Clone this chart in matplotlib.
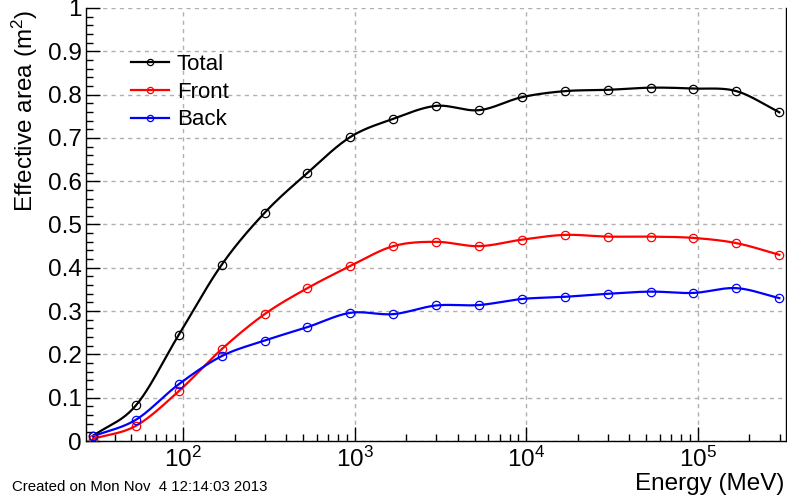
import numpy as np
import matplotlib
matplotlib.use("Agg")
import matplotlib.pyplot as plt
from matplotlib.ticker import FixedLocator, MultipleLocator, NullFormatter

plt.rcParams["font.family"] = ["Liberation Sans", "DejaVu Sans"]
plt.rcParams["mathtext.fontset"] = "custom"
plt.rcParams["mathtext.rm"] = "Liberation Sans"
plt.rcParams["mathtext.it"] = "Liberation Sans"
plt.rcParams["mathtext.default"] = "regular"

# energy bin centres (MeV), quarter-decade steps
energy = [29.9, 53.1, 94.4, 168, 299, 531, 944, 1680, 2990, 5310,
          9440, 16800, 29900, 53100, 94400, 168000, 299000]

total = [0.012, 0.082, 0.245, 0.407, 0.527, 0.619, 0.702, 0.744, 0.774,
         0.764, 0.794, 0.808, 0.811, 0.816, 0.814, 0.808, 0.759]
front = [0.005, 0.035, 0.115, 0.212, 0.293, 0.353, 0.404, 0.450, 0.460,
         0.450, 0.465, 0.476, 0.472, 0.472, 0.469, 0.457, 0.430]
back = [0.011, 0.049, 0.131, 0.196, 0.232, 0.263, 0.296, 0.293, 0.313,
        0.314, 0.328, 0.333, 0.340, 0.345, 0.342, 0.353, 0.330]


def smooth(x, y, n=24):
    # Catmull-Rom curve through the points, in log-x space (like ROOT's "C" option)
    pts = np.column_stack([np.log10(x), y])
    P = np.vstack([2 * pts[0] - pts[1], pts, 2 * pts[-1] - pts[-2]])
    t = np.linspace(0, 1, n, endpoint=False)[:, None]
    segs = []
    for i in range(1, len(P) - 2):
        p0, p1, p2, p3 = P[i - 1:i + 3]
        segs.append(0.5 * (2 * p1 + (p2 - p0) * t
                           + (2 * p0 - 5 * p1 + 4 * p2 - p3) * t ** 2
                           + (3 * p1 - p0 - 3 * p2 + p3) * t ** 3))
    segs.append(pts[-1:])
    c = np.vstack(segs)
    return 10 ** c[:, 0], c[:, 1]


fig = plt.figure(figsize=(7.87, 4.98), dpi=100)
ax = fig.add_axes([86 / 787, 1 - 441 / 498, 700 / 787, 433 / 498])

series = [("Total", total, "black"), ("Front", front, "#ff0000"), ("Back", back, "#0000ff")]
handles = []
for name, vals, col in series:
    sx, sy = smooth(energy, vals)
    ax.plot(sx, sy, color=col, lw=1.6, zorder=3)
    ax.plot(energy, vals, "o", ms=6, mfc="none", mec=col, mew=0.9, zorder=4)
    h, = ax.plot([], [], color=col, lw=1.6, marker="o", ms=4.5, mfc="none", mec=col, mew=0.9)
    h.set_label(name)
    handles.append(h)

ax.set_xscale("log")
ax.set_xlim(27.2, 3.27e5)
ax.set_ylim(0, 1)

ax.xaxis.set_major_locator(FixedLocator([1e2, 1e3, 1e4, 1e5]))
ax.xaxis.set_major_formatter(plt.FuncFormatter(lambda v, p: "$10^{%d}$" % round(np.log10(v))))
ax.xaxis.set_minor_locator(FixedLocator([m * 10 ** d for d in range(1, 6) for m in range(2, 10)]))
ax.xaxis.set_minor_formatter(NullFormatter())
ax.yaxis.set_major_locator(MultipleLocator(0.1))
ax.yaxis.set_major_formatter(plt.FuncFormatter(lambda v, p: "%g" % round(v, 1)))
ax.yaxis.set_minor_locator(MultipleLocator(0.02))

ax.tick_params(which="both", direction="in", top=False, right=False, labelsize=17.5)
ax.tick_params(which="major", length=10, width=1)
ax.tick_params(which="minor", length=5, width=1)
ax.tick_params(axis="y", pad=3)
ax.tick_params(axis="x", pad=4)

ax.grid(True, which="major", color="#b0b0b0", ls=(0, (3, 3)), lw=1)
ax.spines["top"].set_visible(False)
for s in ("left", "bottom", "right"):
    ax.spines[s].set_linewidth(1)

ax.set_ylabel("Effective area (m$^{2}$)", fontsize=17.5, loc="top")
ax.yaxis.set_label_coords(-0.066, 0.995)
ax.set_xlabel("Energy (MeV)", fontsize=17.5, loc="right")
ax.xaxis.set_label_coords(0.997, -0.075)

ax.legend(handles=handles, loc="upper left", bbox_to_anchor=(0.036, 0.94),
          frameon=False, fontsize=16, handlelength=1.7, handletextpad=0.35,
          labelspacing=0.3)

fig.text(12 / 787, 1 - 487 / 498, "Created on Mon Nov  4 12:14:03 2013",
         fontsize=10.8, va="center", ha="left")

fig.savefig("out.png", dpi=100)
